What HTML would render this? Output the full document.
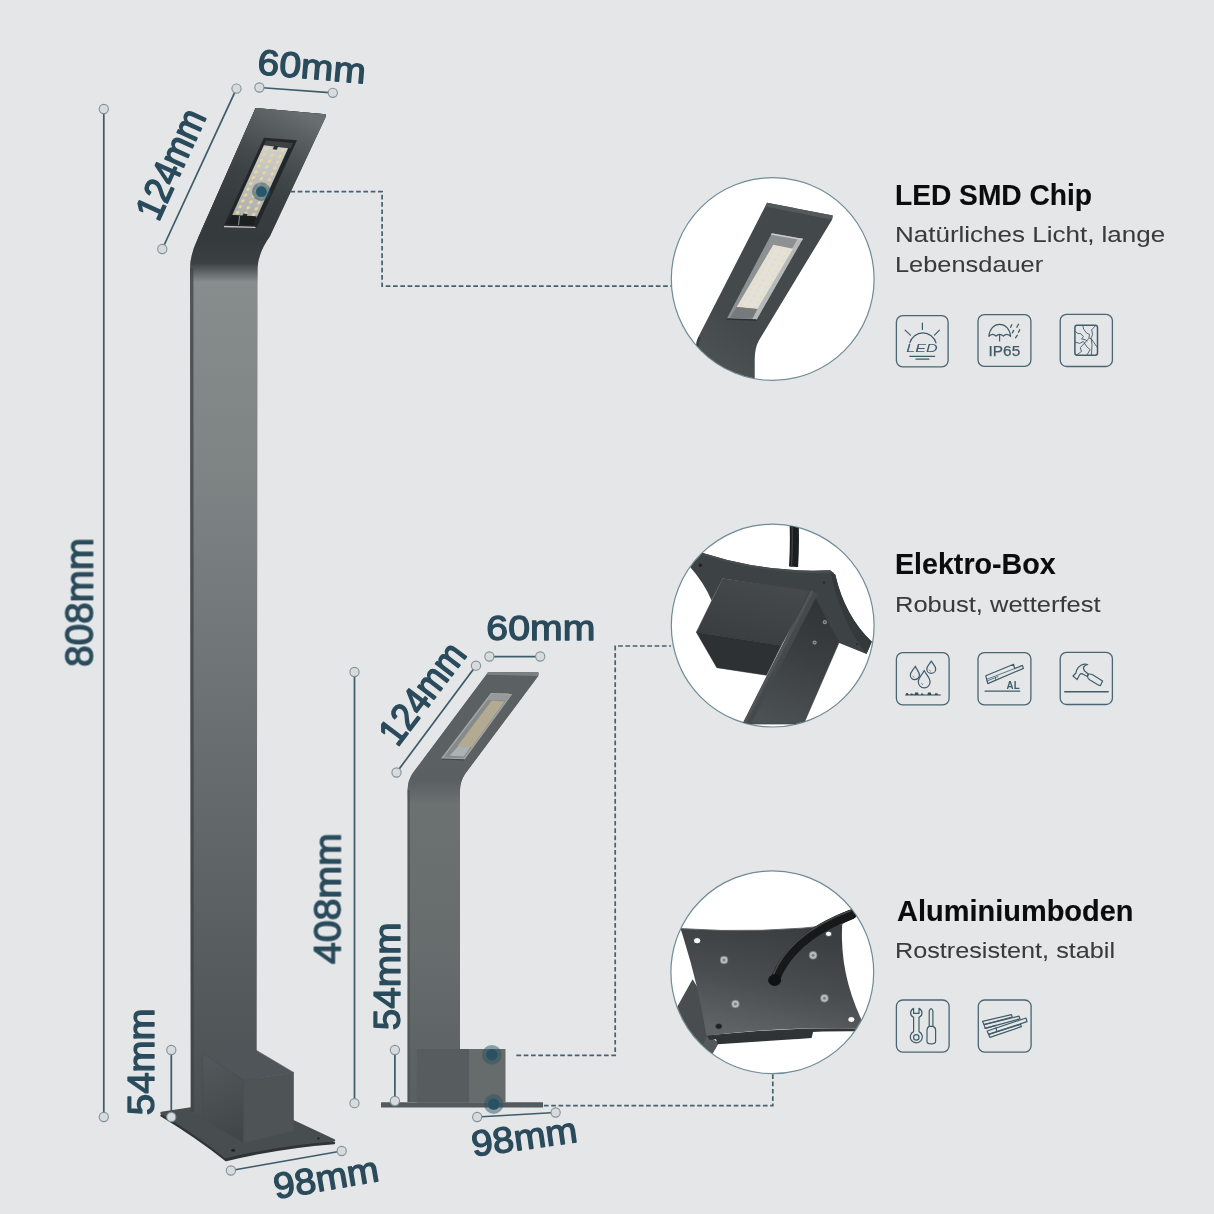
<!DOCTYPE html>
<html lang="de">
<head>
<meta charset="utf-8">
<title>LED Wegeleuchte – Abmessungen</title>
<style>
html,body{margin:0;padding:0;background:#e5e6e8;}
body{width:1214px;height:1214px;overflow:hidden;font-family:"Liberation Sans",sans-serif;}
svg{display:block;}
.dim{font-family:"Liberation Sans",sans-serif;fill:#2a4b5b;stroke:#2a4b5b;stroke-width:1.3px;stroke-linejoin:round;}
.dl{stroke:#3f5c69;stroke-width:1.75;fill:none;}
.dc{fill:#d8dbdc;stroke:#7f929b;stroke-width:1.1;}
.dash{stroke:#48616d;stroke-width:1.7;fill:none;stroke-dasharray:4.7 2.6;}
.ttl{font-family:"Liberation Sans",sans-serif;font-weight:700;fill:#0c0c0c;font-size:28.6px;stroke:#0c0c0c;stroke-width:.12px;}
.sub{font-family:"Liberation Sans",sans-serif;font-weight:400;fill:#3a3a3a;font-size:22.6px;stroke:#3a3a3a;stroke-width:.05px;}
.ib{fill:none;stroke:#4a6672;stroke-width:1.3;}
.ic{fill:none;stroke:#3f5c69;stroke-width:1.2;stroke-linecap:round;stroke-linejoin:round;}
</style>
</head>
<body>
<svg width="1214" height="1214" viewBox="0 0 1214 1214">
<defs>
<radialGradient id="bg" cx="50%" cy="50%" r="75%">
<stop offset="0" stop-color="#e7e8e9"/><stop offset="1" stop-color="#e5e6e7"/>
</radialGradient>
<linearGradient id="poleL" x1="0" y1="0" x2="0" y2="1" gradientUnits="objectBoundingBox">
<stop offset="0" stop-color="#34393b"/>
<stop offset="0.125" stop-color="#363b3d"/>
<stop offset="0.15" stop-color="#80868700"/>
<stop offset="1" stop-color="#80868700"/>
</linearGradient>
<linearGradient id="poleMain" x1="0" y1="262" x2="0" y2="1120" gradientUnits="userSpaceOnUse">
<stop offset="0" stop-color="#888d8e"/>
<stop offset="0.25" stop-color="#7e8384"/>
<stop offset="0.6" stop-color="#666b6d"/>
<stop offset="1" stop-color="#4a4f51"/>
</linearGradient>
<linearGradient id="bendL" x1="0" y1="240" x2="0" y2="282" gradientUnits="userSpaceOnUse">
<stop offset="0" stop-color="#353a3c"/>
<stop offset="0.55" stop-color="#3b4042"/>
<stop offset="1" stop-color="#3b4042" stop-opacity="0"/>
</linearGradient>
<linearGradient id="poleS" x1="0" y1="790" x2="0" y2="1102" gradientUnits="userSpaceOnUse">
<stop offset="0" stop-color="#6c7172"/>
<stop offset="0.5" stop-color="#676c6d"/>
<stop offset="1" stop-color="#5a5f61"/>
</linearGradient>
<linearGradient id="bendS" x1="0" y1="765" x2="0" y2="804" gradientUnits="userSpaceOnUse">
<stop offset="0" stop-color="#5b6062"/>
<stop offset=".4" stop-color="#5a5f61"/>
<stop offset="1" stop-color="#5a5f61" stop-opacity="0"/>
</linearGradient>
<pattern id="leds" width="5" height="5" patternUnits="userSpaceOnUse" patternTransform="rotate(25)">
<rect width="5" height="5" fill="#d9d3bf"/><circle cx="2.5" cy="2.5" r="1.6" fill="#f6efd6"/>
</pattern>

<linearGradient id="headL" x1="300" y1="112" x2="232" y2="240" gradientUnits="userSpaceOnUse">
<stop offset="0" stop-color="#6c7173" stop-opacity=".95"/>
<stop offset="0.25" stop-color="#585d5f" stop-opacity=".8"/>
<stop offset="0.55" stop-color="#464b4d" stop-opacity=".45"/>
<stop offset="1" stop-color="#363b3d" stop-opacity="0"/>
</linearGradient>
<linearGradient id="panelG" x1="0" y1="0" x2="0" y2="12" gradientUnits="userSpaceOnUse">
<stop offset="0" stop-color="#cfcfcb"/><stop offset="1" stop-color="#aeb0ae"/>
</linearGradient>
<pattern id="ledDots" width="1" height="1" patternUnits="userSpaceOnUse">
<ellipse cx=".5" cy=".5" rx=".2" ry=".27" fill="#ecd79a"/>
</pattern>

<linearGradient id="d1body" x1="900" y1="250" x2="250" y2="1100" gradientUnits="userSpaceOnUse">
<stop offset="0" stop-color="#43484a"/><stop offset=".7" stop-color="#44494b"/><stop offset="1" stop-color="#4f5456"/>
</linearGradient>
<linearGradient id="d2boxA" x1="500" y1="380" x2="420" y2="690" gradientUnits="userSpaceOnUse">
<stop offset="0" stop-color="#45494b"/><stop offset="1" stop-color="#3a3e40"/>
</linearGradient>
<linearGradient id="d2pole" x1="870" y1="450" x2="600" y2="1130" gradientUnits="userSpaceOnUse">
<stop offset="0" stop-color="#2f3335"/><stop offset=".45" stop-color="#3a3e40"/><stop offset="1" stop-color="#4c5153"/>
</linearGradient>
<linearGradient id="d3plate" x1="640" y1="350" x2="520" y2="930" gradientUnits="userSpaceOnUse">
<stop offset="0" stop-color="#3a3e40"/><stop offset=".5" stop-color="#484c4e"/><stop offset="1" stop-color="#5f6365"/>
</linearGradient>
<linearGradient id="boxLf" x1="203" y1="1055" x2="243" y2="1140" gradientUnits="userSpaceOnUse">
<stop offset="0" stop-color="#54595b"/><stop offset="1" stop-color="#404547"/></linearGradient>
<linearGradient id="headS" x1="535" y1="675" x2="440" y2="770" gradientUnits="userSpaceOnUse">
<stop offset="0" stop-color="#787d7f" stop-opacity=".9"/><stop offset=".5" stop-color="#62676a" stop-opacity=".6"/><stop offset="1" stop-color="#53585a" stop-opacity="0"/></linearGradient>
<filter id="idf" filterUnits="userSpaceOnUse" x="0" y="0" width="1214" height="1214"><feOffset dx="0" dy="0"/></filter>
<clipPath id="c1"><circle cx="772.7" cy="279" r="101"/></clipPath>
<clipPath id="c2"><circle cx="772.7" cy="625.6" r="101"/></clipPath>
<clipPath id="c3"><circle cx="772.3" cy="972.2" r="101"/></clipPath>
</defs>
<rect width="1214" height="1214" fill="#e5e6e8"/>

<!-- ===== LARGE LAMP ===== -->
<g id="lampL">
<!-- base plate -->
<path d="M161.5,1115.5 L191,1110 L293,1124 L334,1143 Q280,1147 226,1160 Q197,1137 161.5,1115.5 Z" fill="#2f3436" stroke="#2f3436" stroke-width="2.4" stroke-linejoin="round"/>
<path d="M161.5,1113 L191,1108.5 L293,1121 L334,1140.4 Q280,1144.5 225.4,1157 Q197,1134 161.5,1113 Z" fill="#484d4f" stroke="#484d4f" stroke-width="2.4" stroke-linejoin="round"/>
<!-- pole -->
<path d="M255.6,107.9 L325.6,114.3 L325.2,118 L269.8,236.5 Q258.6,252 257.6,267 L256.6,1122 L190.8,1112 L190,268 Q190.4,254 197.6,239 Z" fill="url(#poleMain)"/>
<path d="M255.6,107.9 L325.6,114.3 L325.2,118 L269.8,236.5 Q258.6,252 257.6,267 L257.6,284 L190,284 L190,268 Q190.4,254 197.6,239 Z" fill="url(#bendL)"/>
<path d="M190,268 L193.4,268 L193.8,1112 L190.8,1112 Z" fill="#3e4345" opacity=".75"/>
<!-- head top edge -->
<path d="M255.6,107.9 L325.6,114.3 L325.2,118 L254.2,111.2 Z" fill="#363b3d"/>
<path d="M255.6,107.9 L258.4,110 L200.6,236 L197.6,239 Z" fill="#373c3e"/>
<!-- led recess -->
<path d="M255.6,107.9 L325.6,114.3 L325.2,118 L269.8,236.5 L198.6,237 Z" fill="url(#headL)"/>
<path d="M263.9,137.8 L297,140.3 L256.5,227.7 L223.3,226.7 Z" fill="#232729"/>
<path d="M266,140.5 L293,143 L290.5,148.5 L263.5,145.6 Z" fill="#3d4143"/>
<g transform="matrix(8.07 1 -2.64 5.81 263.9 145.2)">
<rect x="0" y="0" width="3" height="12" fill="url(#panelG)"/>
<rect x="0" y="0" width="3" height="12" fill="url(#ledDots)"/>
<rect x="1.25" y="-.1" width=".5" height=".6" fill="#2a2d2e"/>
<rect x="1.25" y="11.55" width=".5" height=".6" fill="#2a2d2e"/>
</g>
<path d="M232.2,214.9 L256.9,216.4 L253,225 L227,223.8 Z" fill="#1c1f20"/>
<path d="M239.5,216 L238.6,225" stroke="#9ea2a3" stroke-width=".9"/>
<path d="M224,226.5 L255.6,227.4" stroke="#c2c5c6" stroke-width="1.3"/>
<!-- box -->
<path d="M202.7,1053.3 L253.3,1048.5 L293.5,1072.4 L243.8,1080.3 Z" fill="#50555a" stroke="#50555a" stroke-width=".6"/>
<path d="M202.7,1053.3 L243.8,1080.3 L243.8,1142.9 L202.7,1119 Z" fill="url(#boxLf)" stroke="#464b4d" stroke-width=".6"/>
<path d="M243.8,1080.3 L293.5,1072.4 L293.5,1131 L243.8,1142.9 Z" fill="#4e5355" stroke="#4e5355" stroke-width=".6"/>
<ellipse cx="233.2" cy="1150.4" rx="2" ry="1.4" fill="#1f2325"/>
<ellipse cx="318.4" cy="1138.6" rx="1.4" ry="1" fill="#1f2325"/>
</g>

<!-- ===== SMALL LAMP ===== -->
<g id="lampS">
<path d="M381,1102.3 L543,1102.3 L543,1107.6 L381,1107.6 Z" fill="#55595b"/>
<path d="M488.3,671.9 L538.4,672.5 L538.2,676 L465,774 Q460.4,781 460,790 L460,1102 L407.6,1102 L407.6,790 Q407.8,780 413.2,772.6 Z" fill="url(#poleS)"/>
<path d="M488.3,671.9 L538.4,672.5 L538.2,676 L465,774 Q460.4,781 460,790 L460,806 L407.6,806 L407.6,790 Q407.8,780 413.2,772.6 Z" fill="url(#bendS)"/>
<path d="M407.6,790 L409.8,790 L409.8,1102 L407.6,1102 Z" fill="#4d5254" opacity=".8"/>
<path d="M488.3,671.9 L538.4,672.5 L538.2,676 L486,674.8 Z" fill="#7b8081"/>
<path d="M490.9,692.9 L512.6,693.6 L464.6,759.5 L440.8,758.8 Z" fill="#a4a7a7"/>
<path d="M491.6,694.4 L510.2,695 L463.8,758 L443.6,757.4 Z" fill="#868a8a"/>
<path d="M491.8,700.6 L504.6,701.4 L471.4,747.2 L457.6,746 Z" fill="#b3aa92"/>
<path d="M458.4,746 L470.4,747 L463.8,756.4 L449.6,755.8 Z" fill="#aeb1b1"/>
<path d="M491.6,694.4 L510.2,695 L506,700.6 L488,700 Z" fill="#979a9a"/>
<path d="M441.6,759 L464.4,759.8" stroke="#45494b" stroke-width="1.2"/>
<!-- box -->
<rect x="416.8" y="1049" width="52.8" height="53.6" fill="#575c5e"/>
<rect x="469" y="1049" width="36.5" height="53.6" fill="#666b6c"/>
</g>

<!-- ===== DIMENSIONS ===== -->
<g id="dims" filter="url(#idf)">
<!-- 808 -->
<path class="dl" d="M103.8,109 V1117"/>
<circle class="dc" cx="103.8" cy="109" r="4.6"/><circle class="dc" cx="103.8" cy="1117" r="4.6"/>
<text class="dim" font-size="39.7" text-anchor="middle" transform="translate(92.6,602.4) rotate(-90)" textLength="129.0" lengthAdjust="spacingAndGlyphs">808mm</text>
<!-- 124 large -->
<path class="dl" d="M236.5,88.6 L162.3,249"/>
<circle class="dc" cx="236.5" cy="88.6" r="4.6"/><circle class="dc" cx="162.3" cy="249" r="4.6"/>
<text class="dim" font-size="38.5" style="stroke-width:1.6px" text-anchor="middle" transform="translate(182.6,169.5) rotate(-65.5)" textLength="116.5" lengthAdjust="spacingAndGlyphs">124mm</text>
<!-- 60 large -->
<path class="dl" d="M259.4,87.5 L332.8,92.8"/>
<circle class="dc" cx="259.4" cy="87.5" r="4.6"/><circle class="dc" cx="332.8" cy="92.8" r="4.6"/>
<text class="dim" font-size="35.5" text-anchor="middle" transform="translate(310.8,78.8) rotate(5)" textLength="108.4" lengthAdjust="spacingAndGlyphs">60mm</text>
<!-- 54 large -->
<path class="dl" d="M171.3,1050 V1117"/>
<circle class="dc" cx="171.3" cy="1050" r="4.6"/><circle class="dc" cx="171.3" cy="1117" r="4.6"/>
<text class="dim" font-size="36.0" text-anchor="middle" transform="translate(153.6,1061.8) rotate(-90)" textLength="106.8" lengthAdjust="spacingAndGlyphs">54mm</text>
<!-- 98 large -->
<path class="dl" d="M230.9,1170.5 L341.7,1151"/>
<circle class="dc" cx="230.9" cy="1170.5" r="4.6"/><circle class="dc" cx="341.7" cy="1151" r="4.6"/>
<text class="dim" font-size="36" text-anchor="middle" transform="translate(328.1,1189.9) rotate(-9.9)" textLength="106.3" lengthAdjust="spacingAndGlyphs">98mm</text>
<!-- 408 -->
<path class="dl" d="M354.5,672 V1103.2"/>
<circle class="dc" cx="354.5" cy="672" r="4.6"/><circle class="dc" cx="354.5" cy="1103.2" r="4.6"/>
<text class="dim" font-size="36.8" text-anchor="middle" transform="translate(340.4,898.6) rotate(-90)" textLength="130.8" lengthAdjust="spacingAndGlyphs">408mm</text>
<!-- 124 small -->
<path class="dl" d="M476,665.7 L396.5,772.5"/>
<circle class="dc" cx="476" cy="665.7" r="4.6"/><circle class="dc" cx="396.5" cy="772.5" r="4.6"/>
<text class="dim" font-size="38.5" style="stroke-width:1.6px" text-anchor="middle" transform="translate(432.6,701.3) rotate(-52.8)" textLength="116.5" lengthAdjust="spacingAndGlyphs">124mm</text>
<!-- 60 small -->
<path class="dl" d="M489.4,656.5 H540.2"/>
<circle class="dc" cx="489.4" cy="656.5" r="4.6"/><circle class="dc" cx="540.2" cy="656.5" r="4.6"/>
<text class="dim" font-size="35.8" text-anchor="middle" transform="translate(540.8,640.4) rotate(0)" textLength="109.0" lengthAdjust="spacingAndGlyphs">60mm</text>
<!-- 54 small -->
<path class="dl" d="M394.9,1050 V1101"/>
<circle class="dc" cx="394.9" cy="1050" r="4.6"/><circle class="dc" cx="394.9" cy="1101" r="4.6"/>
<text class="dim" font-size="36.4" text-anchor="middle" transform="translate(399.8,976.4) rotate(-90)" textLength="107.7" lengthAdjust="spacingAndGlyphs">54mm</text>
<!-- 98 small -->
<path class="dl" d="M477.2,1117 L555.6,1112.5"/>
<circle class="dc" cx="477.2" cy="1117" r="4.6"/><circle class="dc" cx="555.6" cy="1112.5" r="4.6"/>
<text class="dim" font-size="36" text-anchor="middle" transform="translate(525.9,1149.2) rotate(-8)" textLength="106.5" lengthAdjust="spacingAndGlyphs">98mm</text>
</g>

<!-- ===== CONNECTORS ===== -->
<g id="conn">
<path class="dash" d="M290.4,191.6 H382.1 V286.1 H671"/>
<path class="dash" d="M516.4,1055.3 H615.2 V646 H671"/>
<path class="dash" d="M522,1105.6 H772.8 V1073"/>
<circle cx="261.4" cy="191.7" r="9.4" fill="#2c5364" opacity=".5"/><circle cx="261.4" cy="191.7" r="5.4" fill="#25586a"/>
<circle cx="491.9" cy="1054.8" r="9.8" fill="#2c5364" opacity=".5"/><circle cx="491.9" cy="1054.8" r="5.7" fill="#2a5162"/>
<circle cx="493.7" cy="1104.1" r="9.8" fill="#2c5364" opacity=".5"/><circle cx="493.7" cy="1104.1" r="5.7" fill="#2a5162"/>
</g>

<!-- ===== DETAIL CIRCLES ===== -->
<circle cx="772.7" cy="279" r="101.4" fill="#fff" stroke="#6f8b96" stroke-width="1.2"/>
<circle cx="772.7" cy="625.6" r="101.4" fill="#fff" stroke="#6f8b96" stroke-width="1.2"/>
<circle cx="772.3" cy="972.2" r="101.4" fill="#fff" stroke="#6f8b96" stroke-width="1.2"/>
<g id="d1" clip-path="url(#c1)">
<g transform="translate(660,170) scale(0.189456)">
<path d="M565,173 L912,240 L908,262 L522,900 Q500,940 500,1000 L500,1140 L180,1140 L190,930 Q190,905 203,880 Z" fill="url(#d1body)"/>
<path d="M565,173 L912,240 L908,262 L558,192 Z" fill="#54595b"/>
<path d="M180,1140 L190,930 Q190,905 203,880 L215,886 Q203,910 203,935 L200,1140 Z" fill="#303436" opacity=".7"/>
</g>
<path d="M771.8,233.3 L802.9,238.8 L756.5,319.8 L726.8,318.8 Z" fill="#8e9191"/>
<path d="M798.2,238 L802.9,238.8 L756.5,319.8 L751.3,319.6 Z" fill="#b7b9b9"/>
<path d="M771.8,233.3 L802.9,238.8 L802.2,240.2 L771,234.8 Z" fill="#c9cbcb"/>
<path d="M773.3,244.7 L793,248.7 L757.4,309 L736.7,307 Z" fill="#e3e1d9"/>
<g transform="matrix(6.57 1.33 -3.05 5.19 773.3 244.7)" opacity=".4">
<rect x="0" y="0" width="3" height="12" fill="url(#ledDots)"/>
</g>
<path d="M736.7,307 L757.4,309 L752.5,318.6 L730,317.8 Z" fill="#777a7a"/>
<path d="M726.8,319 L756.5,320" stroke="#2d3133" stroke-width="1.6"/>
</g>
<g id="d2" clip-path="url(#c2)">
<g transform="translate(660,510) scale(0.189456)">
<!-- cable -->
<path d="M708,70 Q712,180 705,300" stroke="#1b1d1e" stroke-width="48" fill="none"/>
<path d="M697,70 Q701,180 694,300" stroke="#3a3d3e" stroke-width="8" fill="none"/>
<!-- plate underside -->
<path d="M222,226 Q560,335 898,318 L925,340 Q975,560 1118,695 L1090,760 L940,700 L790,430 L330,362 L272,478 Q235,385 150,290 Z" fill="#3d4244"/>
<path d="M222,226 Q560,335 898,318 L918,332 Q560,346 217,236 Z" fill="#474c4e"/>
<path d="M925,340 Q975,560 1118,695 L1090,760 Q960,600 900,330 Z" fill="#34393b"/>
<circle cx="213" cy="292" r="9" fill="#1f2223"/>
<circle cx="866" cy="383" r="5" fill="#1f2223"/>
<circle cx="1040" cy="708" r="5" fill="#1f2223"/>
<!-- box -->
<path d="M330,362 L800,425 L640,715 L192,645 Z" fill="url(#d2boxA)" stroke="#3f4345" stroke-width="3"/>
<path d="M192,645 L640,715 L562,872 L300,832 Z" fill="#2d3133" stroke="#2d3133" stroke-width="3"/>
<!-- pole -->
<path d="M796,420 L945,700 L758,1130 L436,1130 Z" fill="url(#d2pole)" stroke="#383c3e" stroke-width="3"/>
<path d="M797,422 L832,445 L480,1130 L437,1130 Z" fill="#44494b"/>
<path d="M797,422 L810,429 L452,1130 L437,1130 Z" fill="#50555a"/>
<circle cx="870" cy="592" r="11" fill="#8d9192"/><circle cx="870" cy="592" r="5" fill="#55595a"/>
<circle cx="816" cy="700" r="11" fill="#8d9192"/><circle cx="816" cy="700" r="5" fill="#55595a"/>
</g>
</g>
<g id="d3" clip-path="url(#c3)">
<g transform="translate(660,860) scale(0.189456)">
<!-- pole behind -->
<path d="M172,630 L60,830 L260,1050 L310,965 L250,925 L215,700 Z" fill="#494d4f"/>
<path d="M248,930 L310,965 L262,1050 L215,1000 Z" fill="#55595b"/>
<!-- box under plate -->
<path d="M290,930 L810,900 L800,940 L305,972 Z" fill="#2f3335"/>
<!-- plate thickness -->
<path d="M245,925 Q660,880 1085,890 L1088,905 Q660,900 262,950 Z" fill="#303436"/>
<!-- cable upper (behind plate edge) -->
<path d="M1015,285 Q930,320 870,360" stroke="#141617" stroke-width="52" fill="none"/>
<!-- plate -->
<path d="M108,362 Q540,392 962,338 Q945,620 1087,890 Q660,878 245,927 Q200,640 108,362 Z" fill="url(#d3plate)"/>
<path d="M108,362 Q540,392 962,338" stroke="#5d6264" stroke-width="5" fill="none"/>
<!-- holes -->
<ellipse cx="196" cy="426" rx="20" ry="17" fill="#f4f5f5" stroke="#2b2e30" stroke-width="5"/>
<ellipse cx="890" cy="390" rx="17" ry="14" fill="#f4f5f5" stroke="#2b2e30" stroke-width="4"/>
<ellipse cx="1010" cy="842" rx="19" ry="16" fill="#f4f5f5" stroke="#2b2e30" stroke-width="4"/>
<ellipse cx="310" cy="878" rx="18" ry="15" fill="#1d2021" stroke="#585d5f" stroke-width="4"/>
<!-- screws -->
<g fill="#b9bcbc" stroke="#6d7172" stroke-width="4">
<circle cx="338" cy="528" r="21"/><circle cx="808" cy="503" r="21"/><circle cx="868" cy="730" r="21"/><circle cx="398" cy="760" r="21"/>
</g>
<g fill="#7e8283"><circle cx="338" cy="528" r="8"/><circle cx="808" cy="503" r="8"/><circle cx="868" cy="730" r="8"/><circle cx="398" cy="760" r="8"/></g>
<!-- cable -->
<path d="M1015,285 Q700,400 608,628" stroke="#161819" stroke-width="50" fill="none" stroke-linecap="round"/>
<path d="M1005,268 Q690,385 600,600" stroke="#45494a" stroke-width="9" fill="none" stroke-linecap="round"/>
<ellipse cx="605" cy="635" rx="34" ry="30" fill="#0f1112"/>
</g>
</g>

<!-- ===== TEXT ===== -->
<g id="txt" filter="url(#idf)">
<text class="ttl" x="895" y="205" textLength="197" lengthAdjust="spacingAndGlyphs">LED SMD Chip</text>
<text class="sub" x="895" y="242.2" textLength="270.2" lengthAdjust="spacingAndGlyphs">Natürliches Licht, lange</text>
<text class="sub" x="895" y="272" textLength="148.2" lengthAdjust="spacingAndGlyphs">Lebensdauer</text>
<text class="ttl" x="895" y="573.5" textLength="160.6" lengthAdjust="spacingAndGlyphs">Elektro-Box</text>
<text class="sub" x="895" y="611.7" textLength="205.6" lengthAdjust="spacingAndGlyphs">Robust, wetterfest</text>
<text class="ttl" x="897" y="921.4" textLength="236.5" lengthAdjust="spacingAndGlyphs">Aluminiumboden</text>
<text class="sub" x="895" y="957.5" textLength="220" lengthAdjust="spacingAndGlyphs">Rostresistent, stabil</text>
</g>

<!-- ===== ICONS ===== -->
<g id="icons" filter="url(#idf)">
<rect class="ib" x="896.4" y="315.6" width="51.7" height="51.2" rx="6.3"/>
<rect class="ib" x="978" y="314.6" width="52.9" height="51.8" rx="6.3"/>
<rect class="ib" x="1060.2" y="314.4" width="52.2" height="52.1" rx="6.3"/>
<rect class="ib" x="896.4" y="652.7" width="52.7" height="52.1" rx="6.3"/>
<rect class="ib" x="978" y="652.7" width="52.9" height="52.1" rx="6.3"/>
<rect class="ib" x="1060.2" y="652.4" width="52.2" height="52.1" rx="6.3"/>
<rect class="ib" x="896.4" y="1000" width="52.7" height="52.1" rx="6.3"/>
<rect class="ib" x="978.3" y="1000" width="52.8" height="52.1" rx="6.3"/>

<!-- LED -->
<g class="ic">
<path d="M909.8,342.9 A13.6,13.6 0 0 1 936,342.9"/>
<path d="M922.4,323 V329.5 M905.1,330.1 L910.4,335.1 M939.4,330.1 L934.5,335.1"/>
<path d="M909.8,356.3 H934.7 M916,359.2 H928.9"/>
</g>
<text x="906.3" y="352.4" font-family="Liberation Sans, sans-serif" font-style="italic" font-size="11.8" fill="#3f5c69" textLength="31.4" lengthAdjust="spacingAndGlyphs">LED</text>

<!-- IP65 -->
<g class="ic">
<path d="M988.9,336.4 C989.4,329 994,324.3 999.6,324.3 C1005.4,324.3 1010,329 1010.6,336.4 Q1007,332.4 1003.4,336 Q999.6,332.6 996,336 Q992.4,332.4 988.9,336.4 Z"/>
<path d="M999.6,335.4 V341"/>
<path d="M1011.8,324.8 L1010.6,327.3 M1018.5,324.2 L1016.8,327.3 M1013.6,330.4 L1012.4,332.9 M1019.8,329.8 L1018.5,332.3 M1017.3,335.3 L1015.5,337.8" stroke-width="1.3"/>
</g>
<text x="988.6" y="356.4" font-family="Liberation Sans, sans-serif" font-size="14" fill="#3f5c69" stroke="#3f5c69" stroke-width=".25" textLength="31.6" lengthAdjust="spacingAndGlyphs">IP65</text>

<!-- cracked glass -->
<g class="ic">
<rect x="1074.9" y="325.3" width="22.6" height="30" rx="2.2" stroke-width="1.5"/>
<path d="M1082.7,325.6 L1083.7,329.2 L1086.4,332.9 L1089.5,334.4 L1088.9,337.8 L1091.4,339 L1097,347" stroke-width=".9"/>
<path d="M1095,326.2 L1091.7,329.8 L1092.6,334.7 L1091.1,337.8 L1092,344.6 L1091.4,354.8" stroke-width=".9"/>
<path d="M1075.2,331 L1077.2,333.2 L1080.9,333.8 L1083.4,336.6 L1081.5,339 L1085.2,339.7 L1087.1,340.9" stroke-width=".9"/>
<path d="M1075.3,342.1 L1079.6,343.4 L1083.4,341.5 L1087.1,347.1 L1090.1,349.5 L1087.1,354.8" stroke-width=".9"/>
<path d="M1088.9,338.4 L1080.3,347.7 L1081.5,351.4 L1077.2,354.6" stroke-width=".9"/>
</g>

<!-- drops -->
<g class="ic" stroke-width="1.15">
<path d="M915.3,666.2 C913.4,669.6 910.3,672 910.3,675 A4.5,4.5 0 0 0 919.4,675 C919.4,672 916.6,669.6 915.3,666.2 Z"/>
<path d="M931.3,661 C929.6,664.2 926.8,666.2 926.8,669 A4.4,4.4 0 0 0 935.7,669 C935.7,666.2 933,664.2 931.3,661 Z"/>
<path d="M924.2,670.5 C922,675 918.3,678 918.3,682 A5.9,5.9 0 0 0 930.1,682 C930.1,678 926.4,675 924.2,670.5 Z"/>
<path d="M913,676.4 L914,677.2 M929.5,670.2 L930.4,671 M921.6,683.6 L922.8,684.5" stroke-width=".8"/>
</g>
<path d="M905.2,695.6 H940.8 L940.8,694.6 L938,694.6 L937.2,693.2 L935.2,693.2 L934.6,694.4 L931.4,694.4 L930.8,692.6 L928,692.6 L927.4,694.4 L923.6,694.4 L923,693.4 L921.4,693.4 L920.8,694.4 L918.6,694.4 L918,692.4 L915.2,692.4 L914.6,694.2 L912.8,694.2 L912.2,693.4 L910.8,693.4 L910.2,694.4 L908.6,694.4 L907.8,693 L906.4,693 L905.8,694.6 L905.2,694.6 Z" fill="#2f4d5a"/>

<!-- AL profile -->
<g class="ic" stroke-width="1.05">
<path d="M985.8,675.8 L1013.6,664.3 L1014.6,668.6 L1022.4,665.4 L1023.4,668.4 L987.8,683.6 Z"/>
<path d="M986.6,679.4 L1014.6,668.6 M987,681 L998,676.6 M995.4,677.4 L995.8,679.8" stroke-width=".8"/>
<path d="M985.1,691.2 H1019.7" stroke-width="1.3"/>
</g>
<text x="1006.6" y="688.9" font-family="Liberation Sans, sans-serif" font-weight="700" font-size="10.4" fill="#3f5c69" textLength="13" lengthAdjust="spacingAndGlyphs">AL</text>

<!-- hammer -->
<g class="ic" stroke-width="1.15">
<path d="M1087.7,664.5 C1083,663 1078.2,666 1076.6,670.2 L1075.9,673 L1073,676 L1077.2,679.6 L1079.6,674.8 Q1081,673.2 1082.6,673.9 L1087.4,676.6 L1088.5,674.3 L1084.6,671 Q1082.6,668 1084,666.5 Q1085.5,665.1 1087.7,664.5 Z"/>
<path d="M1088,674.3 Q1090.2,673.5 1092.6,674.7 L1102.6,680.9 L1100.3,685.7 Q1098.5,685.6 1097.4,684.4 L1090,680 Q1087.8,678.6 1087.4,676.5 Z"/>
<path d="M1064.8,691.7 H1108.1" stroke-width="1.5"/>
</g>

<!-- tools -->
<g class="ic" stroke-width="1.15">
<path d="M913.6,1008.4 Q910.6,1010 910.6,1013 Q910.6,1016 913.6,1017.4 L913.6,1031.6 A6,6 0 1 0 919,1031.6 L919,1017.4 Q922,1016 922,1013 Q922,1010 919,1008.4 L919,1013.4 L913.6,1013.4 Z"/>
<circle cx="916.3" cy="1037.4" r="2.7"/>
<path d="M929.2,1026.4 L929.2,1011 Q931,1006.4 932.9,1011 L932.9,1026.4"/>
<path d="M929.2,1026.4 L932.9,1026.4 Q935.6,1027.4 935.6,1030 L935.6,1041.4 Q935.6,1043.8 931.1,1043.8 Q927,1043.8 927,1041.4 L927,1030 Q927,1027.4 929.2,1026.4 Z"/>
</g>

<!-- profiles -->
<g class="ic" stroke-width="1">
<path d="M982.6,1021.4 L1011.4,1014.6 L1012.2,1017 L984,1024.6 Z"/>
<path d="M984,1024.6 L1019,1016.2 L1020,1018.8 L985.2,1028.4 Z"/>
<path d="M987.2,1031 L1026,1018 L1027,1021.6 L988.6,1034.4 Z"/>
<path d="M988.6,1034.4 L1020.6,1024.4 L1021.4,1026.6 L990,1037.4 Z"/>
<path d="M985.2,1028.4 L996,1025.4 M996,1027.6 L996.6,1030.4"/>
</g>
</g>
</svg>
</body>
</html>
